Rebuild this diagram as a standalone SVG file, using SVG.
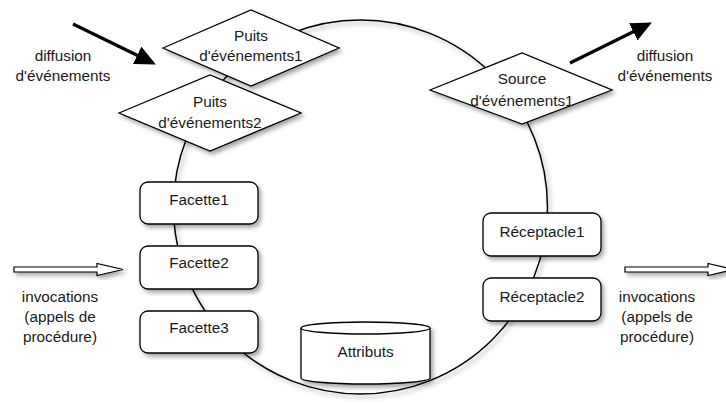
<svg xmlns="http://www.w3.org/2000/svg" width="726" height="406" viewBox="0 0 726 406">
  <style>
    text { font-family: "Liberation Sans", Arial, sans-serif; font-size: 15.3px; fill: #1a1a1a; text-anchor: middle; }
    .shape { fill: #ffffff; stroke: #000000; stroke-width: 1.3; filter: url(#shadow); }
    .ring { fill: none; stroke: #000000; stroke-width: 1.5; filter: url(#shadow); }
    .bold { stroke: #000000; stroke-width: 3.2; fill: none; marker-end: url(#solidHead); }
    .hollow { fill: #ffffff; stroke: #000000; stroke-width: 1.2; filter: url(#shadow); }
  </style>
  <defs>
    <filter id="shadow" x="-20%" y="-20%" width="150%" height="150%">
      <feDropShadow dx="2.5" dy="3" stdDeviation="2" flood-color="#000000" flood-opacity="0.35"/>
    </filter>
    <marker id="solidHead" markerWidth="8" markerHeight="7" refX="5.5" refY="3" orient="auto" markerUnits="strokeWidth">
      <path d="M0,0 L6.5,3 L0,6 Z" fill="#000000"/>
    </marker>
  </defs>

  <rect width="726" height="406" fill="#ffffff"/>

  <!-- component boundary -->
  <circle class="ring" cx="360.5" cy="207" r="187"/>

  <!-- connectors -->
  <g id="connectors">
    <line class="bold" x1="73" y1="24" x2="153" y2="63"/>
    <line class="bold" x1="570" y1="63" x2="649" y2="24"/>
    <path class="hollow" d="M14,267 L97,267 L97,263.5 L123,269.5 L97,275.5 L97,272 L14,272 Z"/>
    <path class="hollow" d="M625,267 L708,267 L708,263.5 L734,269.5 L708,275.5 L708,272 L625,272 Z"/>
  </g>

  <!-- labels -->
  <g id="label-diffusion-in">
    <text x="63" y="61">diffusion</text>
    <text x="63" y="81">d'événements</text>
  </g>
  <g id="label-diffusion-out">
    <text x="665" y="61">diffusion</text>
    <text x="665" y="81">d'événements</text>
  </g>
  <g id="label-invocations-in">
    <text x="60" y="302">invocations</text>
    <text x="60" y="322">(appels de</text>
    <text x="60" y="342">procédure)</text>
  </g>
  <g id="label-invocations-out">
    <text x="657" y="302">invocations</text>
    <text x="657" y="322">(appels de</text>
    <text x="657" y="342">procédure)</text>
  </g>

  <!-- event sinks and source -->
  <g id="puits2">
    <polygon class="shape" points="119,113 210,75 301,113 210,151"/>
    <text x="210" y="107">Puits</text>
    <text x="210" y="128">d'événements2</text>
  </g>
  <g id="puits1">
    <polygon class="shape" points="163,48 251,10 339,48 251,86"/>
    <text x="251" y="41">Puits</text>
    <text x="251" y="61">d'événements1</text>
  </g>
  <g id="source1">
    <polygon class="shape" points="430,90 522,53 612,90 522,124"/>
    <text x="522" y="84">Source</text>
    <text x="522" y="106">d'événements1</text>
  </g>

  <!-- facets -->
  <g id="facette1">
    <rect class="shape" x="140" y="182" width="118" height="42" rx="8"/>
    <text x="199" y="205">Facette1</text>
  </g>
  <g id="facette2">
    <rect class="shape" x="140" y="246" width="118" height="43" rx="8"/>
    <text x="199" y="268">Facette2</text>
  </g>
  <g id="facette3">
    <rect class="shape" x="140" y="311" width="118" height="42" rx="8"/>
    <text x="199" y="333">Facette3</text>
  </g>

  <!-- receptacles -->
  <g id="receptacle1">
    <rect class="shape" x="483" y="213" width="118" height="43" rx="8"/>
    <text x="542" y="237">Réceptacle1</text>
  </g>
  <g id="receptacle2">
    <rect class="shape" x="483" y="278" width="118" height="43" rx="8"/>
    <text x="542" y="302">Réceptacle2</text>
  </g>

  <!-- attributes store -->
  <g id="attributs">
    <path class="shape" d="M301,328 A64.5,6 0 0 1 430,328 L430,378 A64.5,6 0 0 1 301,378 Z"/>
    <path d="M301,328 A64.5,6 0 0 0 430,328" fill="none" stroke="#000000" stroke-width="1.3"/>
    <text x="365.5" y="357">Attributs</text>
  </g>
</svg>
